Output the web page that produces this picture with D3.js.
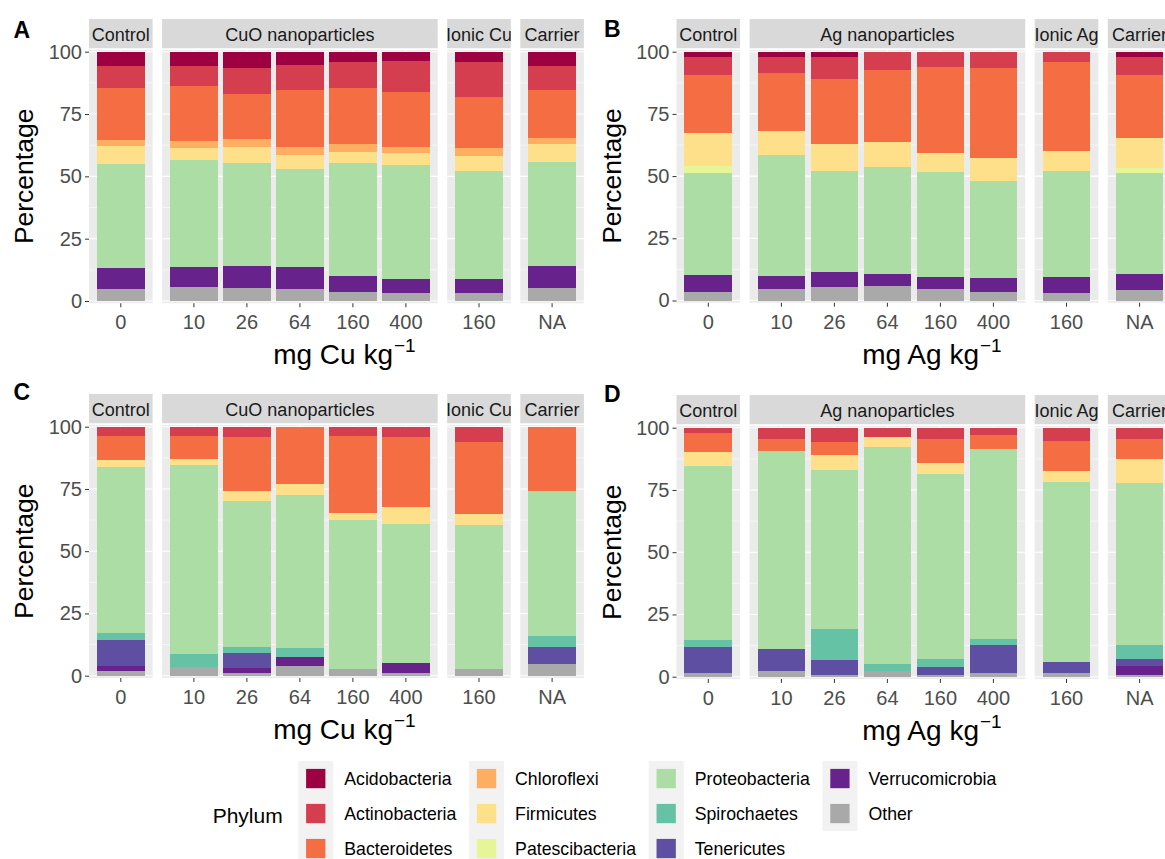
<!DOCTYPE html>
<html>
<head>
<meta charset="utf-8">
<script src="https://cdn.jsdelivr.net/npm/d3@7"></script>
<style>
  html, body { margin: 0; padding: 0; background: #fff; }
  svg { display: block; font-family: "Liberation Sans", Arial, sans-serif; }
</style>
</head>
<body>
<svg id="fig" width="1165" height="859"></svg>
<script>
// Phyla in legend order (first one is drawn on top of each stack)
const phyla = ["Acidobacteria", "Actinobacteria", "Bacteroidetes", "Chloroflexi", "Firmicutes",
  "Patescibacteria", "Proteobacteria", "Spirochaetes", "Tenericutes", "Verrucomicrobia", "Other"];
const phylumColors = ["#9E0142", "#D53E4F", "#F46D43", "#FDAE61", "#FEE08B",
  "#E6F598", "#ABDDA4", "#66C2A5", "#5E4FA2", "#68228B", "#A9A9A9"];

// Treatment groups (facets) and dose levels within each group
const cuGroups = ["Control", "CuO nanoparticles", "Ionic Cu", "Carrier"];
const agGroups = ["Control", "Ag nanoparticles", "Ionic Ag", "Carrier"];
const doseLevels = [["0"], ["10", "26", "64", "160", "400"], ["160"], ["NA"]];
const yTicks = [0, 25, 50, 75, 100];
const yMinor = [12.5, 37.5, 62.5, 87.5];

// Relative abundance (%) per sample, columns follow `phyla`
const valuesA = [
  [5.9, 8.5, 21.0, 2.3, 7.4, 0, 41.7, 0, 0, 8.3, 4.9],
  [5.6, 8.3, 22.1, 2.5, 4.9, 0, 42.8, 0, 0, 8.3, 5.5],
  [6.4, 10.6, 18.0, 3.2, 6.5, 0, 41.1, 0, 0, 9.1, 5.1],
  [5.3, 10.1, 22.8, 3.1, 5.8, 0, 39.4, 0, 0, 8.8, 4.7],
  [4.3, 10.3, 22.6, 2.9, 4.6, 0, 45.4, 0, 0, 6.2, 3.7],
  [3.7, 12.3, 22.1, 2.7, 4.7, 0, 45.7, 0, 0, 5.6, 3.2],
  [4.3, 13.9, 20.3, 3.3, 6.1, 0, 43.3, 0, 0, 5.5, 3.3],
  [5.6, 9.9, 19.3, 2.4, 7.1, 0, 41.8, 0, 0, 8.6, 5.3]
];
const valuesB = [
  [2.1, 7.4, 23.1, 0, 13.4, 2.8, 41.1, 0, 0, 6.6, 3.5],
  [2.0, 6.6, 23.2, 0, 9.9, 0, 48.6, 0, 0, 4.9, 4.8],
  [2.0, 8.9, 26.1, 0, 11.0, 0, 40.7, 0, 0, 5.8, 5.5],
  [0, 7.4, 28.7, 0, 10.3, 0, 42.8, 0, 0, 5.1, 5.7],
  [0, 6.2, 34.4, 0, 7.9, 0, 42.0, 0, 0, 4.9, 4.6],
  [0, 6.7, 36.1, 0, 9.1, 0, 39.1, 0, 0, 5.4, 3.6],
  [0, 4.3, 35.8, 0, 8.0, 0, 42.5, 0, 0, 6.5, 2.9],
  [2.1, 7.4, 25.1, 0, 12.0, 2.2, 40.7, 0, 0, 6.2, 4.3]
];
const valuesC = [
  [0, 3.7, 9.6, 0, 3.0, 0, 66.6, 2.6, 10.6, 2.0, 1.9],
  [0, 3.7, 9.4, 0, 2.3, 0, 75.9, 5.4, 0, 0, 3.3],
  [0, 4.0, 21.8, 0, 4.2, 0, 58.4, 2.5, 5.9, 2.3, 0.9],
  [0, 0, 23.2, 0, 4.4, 0, 61.3, 3.5, 0, 3.7, 3.9],
  [0, 3.7, 30.8, 0, 2.8, 0, 60.2, 0, 0, 0, 2.5],
  [0, 4.1, 28.2, 0, 6.7, 0, 56.0, 0, 0, 4.1, 0.9],
  [0, 6.3, 28.8, 0, 4.3, 0, 57.8, 0, 0, 0, 2.8],
  [0, 0, 25.8, 0, 0, 0, 58.1, 4.6, 6.7, 0, 4.8]
];
const valuesD = [
  [0, 2.1, 7.7, 0, 5.7, 0, 69.8, 2.9, 10.2, 0, 1.6],
  [0, 4.7, 4.8, 0, 0, 0, 79.3, 0, 8.9, 0, 2.3],
  [0, 5.8, 5.2, 0, 6.1, 0, 63.6, 12.7, 5.8, 0, 0.8],
  [0, 3.9, 0, 0, 3.7, 0, 87.3, 2.7, 0, 0, 2.4],
  [0, 4.7, 9.6, 0, 4.3, 0, 74.3, 3.1, 3.3, 0, 0.7],
  [0, 2.9, 5.5, 0, 0, 0, 76.6, 2.4, 11.0, 0, 1.6],
  [0, 5.5, 11.9, 0, 4.6, 0, 72.2, 0, 4.5, 0, 1.3],
  [0, 4.7, 8.0, 0, 9.7, 0, 64.7, 5.7, 2.8, 3.6, 0.8]
];

const svg = d3.select("#fig");
const color = d3.scaleOrdinal().domain(phyla).range(phylumColors);

// Layout constants
const unit = 53;        // width of one discrete x position
const facetGap = 9.5;   // space between facets
const stripH = 29.3;

const panels = [
  { letter: "A", values: valuesA, groups: cuGroups, metal: "Cu", left: 89, y100: 51.7, y0: 301, lx: 13.5, ly: 38.3 },
  { letter: "B", values: valuesB, groups: agGroups, metal: "Ag", left: 676.5, y100: 51.7, y0: 300.5, lx: 604, ly: 36.7 },
  { letter: "C", values: valuesC, groups: cuGroups, metal: "Cu", left: 89, y100: 426.7, y0: 675.7, lx: 13.5, ly: 400 },
  { letter: "D", values: valuesD, groups: agGroups, metal: "Ag", left: 676.5, y100: 427.7, y0: 676.7, lx: 604, ly: 401.7 }
];

const defs = svg.append("defs");
let clipId = 0;

function drawPanel(cfg) {
  const g = svg.append("g");
  const y = d3.scaleLinear().domain([0, 100]).range([cfg.y0, cfg.y100]);
  const panelTop = y(100.7), panelBottom = y(-0.9);
  let x0 = cfg.left;
  let row = 0;

  cfg.groups.forEach((grp, gi) => {
    const levels = doseLevels[gi];
    const w = (levels.length + 0.2) * unit;
    const x = d3.scaleBand().domain(levels).range([x0, x0 + w])
      .paddingInner(0.1).paddingOuter(0.15);
    const bw = x.bandwidth();

    // panel background and grid
    g.append("rect").attr("x", x0).attr("y", panelTop)
      .attr("width", w).attr("height", panelBottom - panelTop).attr("fill", "#EBEBEB");
    g.selectAll(null).data(yMinor).join("line")
      .attr("x1", x0).attr("x2", x0 + w).attr("y1", d => y(d)).attr("y2", d => y(d))
      .attr("stroke", "#fff").attr("stroke-width", 0.55);
    g.selectAll(null).data(yTicks).join("line")
      .attr("x1", x0).attr("x2", x0 + w).attr("y1", d => y(d)).attr("y2", d => y(d))
      .attr("stroke", "#fff").attr("stroke-width", 1.1);
    g.selectAll(null).data(levels).join("line")
      .attr("x1", d => x(d) + bw / 2).attr("x2", d => x(d) + bw / 2)
      .attr("y1", panelTop).attr("y2", panelBottom)
      .attr("stroke", "#fff").attr("stroke-width", 1.1);

    // stacked bars
    const rows = levels.map((lv, i) => {
      const r = { dose: lv };
      phyla.forEach((p, k) => { r[p] = cfg.values[row + i][k]; });
      return r;
    });
    const series = d3.stack().keys(phyla.slice().reverse())(rows);
    g.append("g").attr("shape-rendering", "crispEdges")
      .selectAll("g").data(series).join("g")
      .attr("fill", s => color(s.key))
      .selectAll("rect").data(s => s.filter(d => d[1] - d[0] > 0)).join("rect")
      .attr("x", d => x(d.data.dose))
      .attr("y", d => y(d[1]))
      .attr("width", bw)
      .attr("height", d => y(d[0]) - y(d[1]));

    // facet strip
    const sTop = panelTop - 31;
    const cid = "strip-clip-" + (clipId++);
    defs.append("clipPath").attr("id", cid).append("rect")
      .attr("x", x0).attr("y", sTop).attr("width", w).attr("height", stripH);
    g.append("rect").attr("x", x0).attr("y", sTop).attr("width", w).attr("height", stripH)
      .attr("fill", "#D9D9D9");
    g.append("text").attr("clip-path", `url(#${cid})`)
      .attr("x", x0 + w / 2).attr("y", sTop + 22.5)
      .attr("text-anchor", "middle").attr("font-size", 18).attr("fill", "#1A1A1A")
      .text(grp);

    // x axis for this facet
    const ax = g.append("g").attr("transform", `translate(0,${panelBottom})`)
      .call(d3.axisBottom(x).tickSize(4).tickPadding(8));
    ax.select(".domain").remove();
    ax.selectAll(".tick line").attr("stroke", "#333");
    ax.selectAll(".tick text").attr("font-size", 20).attr("fill", "#4D4D4D")
      .attr("font-family", null);

    row += levels.length;
    x0 += w + facetGap;
  });

  // y axis
  const ay = g.append("g").attr("transform", `translate(${cfg.left},0)`)
    .call(d3.axisLeft(y).tickValues(yTicks).tickSize(4).tickPadding(3));
  ay.select(".domain").remove();
  ay.selectAll(".tick line").attr("stroke", "#333");
  ay.selectAll(".tick text").attr("font-size", 20).attr("fill", "#4D4D4D")
    .attr("font-family", null);

  // axis titles
  g.append("text")
    .attr("transform", `translate(${cfg.left - 56},${(cfg.y0 + cfg.y100) / 2}) rotate(-90)`)
    .attr("text-anchor", "middle").attr("font-size", 26.5).attr("fill", "#000")
    .text("Percentage");
  const totalW = 8.8 * unit + 3 * facetGap;
  const xt = g.append("text")
    .attr("x", cfg.left + totalW / 2 + 8).attr("y", cfg.y0 + 63)
    .attr("text-anchor", "middle").attr("font-size", 28).attr("fill", "#000");
  xt.append("tspan").text(`mg ${cfg.metal} kg`);
  xt.append("tspan").attr("dx", 1).attr("dy", -12).attr("font-size", 19).text("\u22121");

  // panel letter
  svg.append("text").attr("x", cfg.lx).attr("y", cfg.ly)
    .attr("font-size", 23).attr("font-weight", "bold").attr("fill", "#000")
    .text(cfg.letter);
}

panels.forEach(drawPanel);

// Legend
const legend = svg.append("g");
legend.append("text").attr("x", 212.7).attr("y", 822.5)
  .attr("font-size", 21).attr("fill", "#000").text("Phylum");

const keyW = 35, rowH = 35, legendTop = 761, perCol = 3;
let colX = 298.3;
for (let c = 0; c * perCol < phyla.length; c++) {
  const items = phyla.slice(c * perCol, c * perCol + perCol);
  const col = legend.append("g");
  col.append("rect").attr("x", colX).attr("y", legendTop)
    .attr("width", keyW).attr("height", items.length * rowH).attr("fill", "#F2F2F2");
  let maxW = 0;
  items.forEach((p, i) => {
    const cy = legendTop + i * rowH + rowH / 2;
    col.append("rect").attr("x", colX + 7.8).attr("y", cy - 9.6)
      .attr("width", 19.3).attr("height", 19.3).attr("fill", color(p));
    const t = col.append("text").attr("x", colX + keyW + 11).attr("y", cy + 6.4)
      .attr("font-size", 17.7).attr("fill", "#000").text(p);
    maxW = Math.max(maxW, t.node().getComputedTextLength());
  });
  colX += keyW + 11 + maxW + 12.7;
}
</script>
</body>
</html>
